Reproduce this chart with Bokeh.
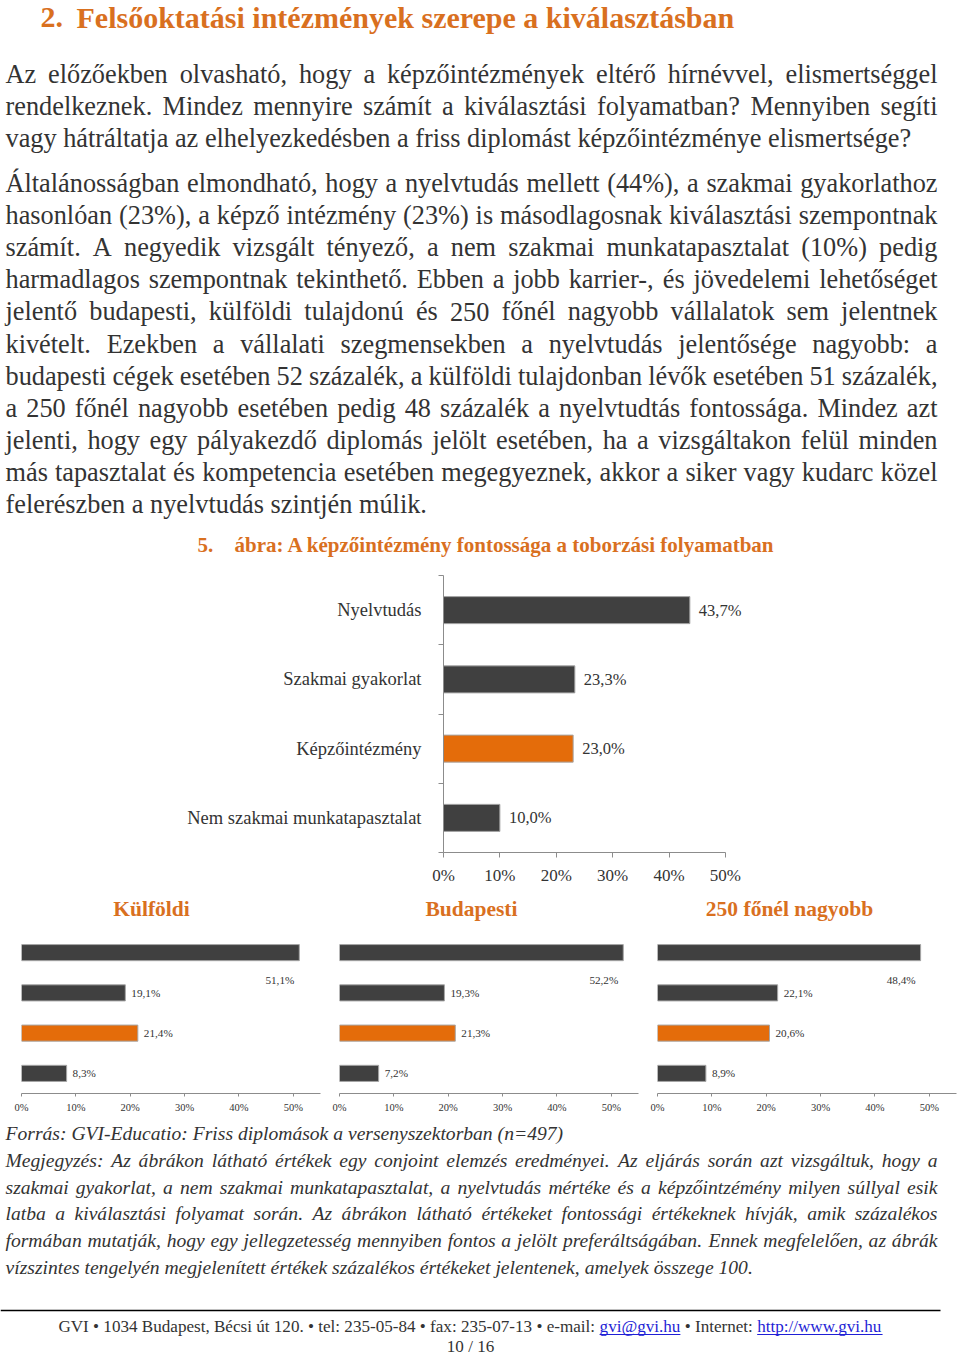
import unicodedata
from bokeh.plotting import figure
from bokeh.layouts import column, row
from bokeh.models import Range1d, FixedTicker, ColumnDataSource, LabelSet, PrintfTickFormatter, CustomJSTickFormatter
from bokeh.core.properties import value
from bokeh.embed import file_html
from bokeh.resources import INLINE

# ---------------- data ----------------
main_categories = ["Nyelvtudás", "Szakmai gyakorlat", "Képzőintézmény", "Nem szakmai munkatapasztalat"]
main_values = [43.7, 23.3, 23.0, 10.0]
main_labels = ["43,7%", "23,3%", "23,0%", "10,0%"]
highlight_category = "Képzőintézmény"

segment_titles = ["Külföldi", "Budapesti", "250 főnél nagyobb"]
kulfoldi_values = [51.1, 19.1, 21.4, 8.3]
kulfoldi_labels = ["51,1%", "19,1%", "21,4%", "8,3%"]
budapesti_values = [52.2, 19.3, 21.3, 7.2]
budapesti_labels = ["52,2%", "19,3%", "21,3%", "7,2%"]
nagyobb_values = [48.4, 22.1, 20.6, 8.9]
nagyobb_labels = ["48,4%", "22,1%", "20,6%", "8,9%"]

main_ticks = [0, 10, 20, 30, 40, 50]
small_ticks = [0, 10, 20, 30, 40, 50]

heading_number = "2."
heading_text = "Felsőoktatási intézmények szerepe a kiválasztásban"
paragraph1 = [
    "Az előzőekben olvasható, hogy a képzőintézmények eltérő hírnévvel, elismertséggel",
    "rendelkeznek. Mindez mennyire számít a kiválasztási folyamatban? Mennyiben segíti",
    "vagy hátráltatja az elhelyezkedésben a friss diplomást képzőintézménye elismertsége?",
]
paragraph2 = [
    "Általánosságban elmondható, hogy a nyelvtudás mellett (44%), a szakmai gyakorlathoz",
    "hasonlóan (23%), a képző intézmény (23%) is másodlagosnak kiválasztási szempontnak",
    "számít. A negyedik vizsgált tényező, a nem szakmai munkatapasztalat (10%) pedig",
    "harmadlagos szempontnak tekinthető. Ebben a jobb karrier-, és jövedelemi lehetőséget",
    "jelentő budapesti, külföldi tulajdonú és 250 főnél nagyobb vállalatok sem jelentnek",
    "kivételt. Ezekben a vállalati szegmensekben a nyelvtudás jelentősége nagyobb: a",
    "budapesti cégek esetében 52 százalék, a külföldi tulajdonban lévők esetében 51 százalék,",
    "a 250 főnél nagyobb esetében pedig 48 százalék a nyelvtudtás fontossága. Mindez azt",
    "jelenti, hogy egy pályakezdő diplomás jelölt esetében, ha a vizsgáltakon felül minden",
    "más tapasztalat és kompetencia esetében megegyeznek, akkor a siker vagy kudarc közel",
    "felerészben a nyelvtudás szintjén múlik.",
]
figure_number = "5."
figure_title = "ábra: A képzőintézmény fontossága a toborzási folyamatban"
source_note = ["Forrás: GVI-Educatio: Friss diplomások a versenyszektorban (n=497)"]
notes = [
    "Megjegyzés: Az ábrákon látható értékek egy conjoint elemzés eredményei. Az eljárás során azt vizsgáltuk, hogy a",
    "szakmai gyakorlat, a nem szakmai munkatapasztalat, a nyelvtudás mértéke és a képzőintzémény milyen súllyal esik",
    "latba a kiválasztási folyamat során. Az ábrákon látható értékeket fontossági értékeknek hívják, amik százalékos",
    "formában mutatják, hogy egy jellegzetesség mennyiben fontos a jelölt preferáltságában. Ennek megfelelően, az ábrák",
    "vízszintes tengelyén megjelenített értékek százalékos értékeket jelentenek, amelyek összege 100.",
]
footer_parts = ["GVI • 1034 Budapest, Bécsi út 120. • tel: 235-05-84 • fax: 235-07-13 • e-mail:",
                "gvi@gvi.hu", "• Internet:", "http://www.gvi.hu"]
footer_links = [False, True, False, True]
page_number = "10 / 16"

# ---------------- styles ----------------
SERIF = "Liberation Serif"
TEXT = "#333333"
ORANGE_TXT = "#D9701F"
ORANGE = "#E46C0A"
DARK = "#404040"
AXIS = "#8c8c8c"
LINK = "#1f1fd6"
W = 960

# Times-compatible advance widths (Liberation Serif), per 1000 em
_common = {' ': 250, '%': 833, '(': 333, ')': 333, ',': 250, '-': 333, '.': 250, '/': 278,
           '@': 921, '•': 350, '=': 564, '?': 444, ':': 278, '!': 333}
for d in "0123456789":
    _common[d] = 500
REG = dict(_common)
REG.update(dict(zip("ABCDEFGHIJKLMNOPQRSTUVWXYZ",
                    [722, 667, 667, 722, 611, 556, 722, 722, 333, 389, 722, 611, 889, 722, 722, 556, 722, 667,
                     556, 611, 722, 722, 944, 722, 722, 611])))
REG.update(dict(zip("abcdefghijklmnopqrstuvwxyz",
                    [444, 500, 444, 500, 444, 333, 500, 500, 278, 278, 500, 278, 778, 500, 500, 500, 500, 333,
                     389, 278, 500, 500, 722, 500, 500, 444])))
ITA = dict(_common)
ITA.update({':': 333, '?': 500, '=': 675})
ITA.update(dict(zip("ABCDEFGHIJKLMNOPQRSTUVWXYZ",
                    [611, 611, 667, 722, 611, 611, 722, 722, 333, 444, 667, 556, 833, 667, 722, 611, 722, 611,
                     500, 556, 722, 611, 833, 611, 556, 556])))
ITA.update(dict(zip("abcdefghijklmnopqrstuvwxyz",
                    [500, 500, 444, 500, 444, 278, 500, 500, 278, 278, 444, 278, 722, 500, 500, 500, 500, 389,
                     389, 278, 500, 444, 667, 444, 444, 389])))


def text_width(s, size, table):
    tot = 0
    for ch in s:
        base = unicodedata.normalize("NFD", ch)[0]
        tot += table.get(ch, table.get(base, 500))
    return tot * size / 1000.0


def justify(lines, x0, x1, y0, dy, size, table, justify_last=False):
    xs, ys, words = [], [], []
    for i, line in enumerate(lines):
        ws = line.split(" ")
        wid = [text_width(w, size, table) for w in ws]
        if (i < len(lines) - 1 or justify_last) and len(ws) > 1:
            gap = (x1 - x0 - sum(wid)) / (len(ws) - 1)
        else:
            gap = table[' '] * size / 1000.0
        x = x0
        for w, wd in zip(ws, wid):
            xs.append(x)
            ys.append(y0 + dy * i)
            words.append(w)
            x += wd + gap
    return xs, ys, words


def text_fig(height):
    p = figure(width=W, height=height, x_range=Range1d(0, W), y_range=Range1d(height, 0),
               x_axis_type=None, y_axis_type=None, output_backend="svg", toolbar_location=None,
               min_border=0)
    p.grid.visible = False
    p.outline_line_color = None
    return p


BODY = 26.3
# ---------------- A: top text ----------------
HA = 560
pa = text_fig(HA)
pa.text(x=[40], y=[17], text=[heading_number], text_font=value(SERIF), text_font_style="bold",
        text_font_size="30px", text_color=ORANGE_TXT, text_baseline="middle")
pa.text(x=[76], y=[17], text=[heading_text], text_font=value(SERIF), text_font_style="bold",
        text_font_size="30px", text_color=ORANGE_TXT, text_baseline="middle")
for lines, y0 in ((paragraph1, 74), (paragraph2, 183)):
    xs, ys, ws = justify(lines, 5, 937, y0, 32.1, BODY, REG)
    pa.text(x=xs, y=ys, text=ws, text_font=value(SERIF), text_font_size=f"{BODY}px",
            text_color=TEXT, text_baseline="middle")
pa.text(x=[197], y=[544], text=[figure_number], text_font=value(SERIF), text_font_style="bold",
        text_font_size="21px", text_color=ORANGE_TXT, text_baseline="middle")
pa.text(x=[234], y=[544], text=[figure_title], text_font=value(SERIF), text_font_style="bold",
        text_font_size="21px", text_color=ORANGE_TXT, text_baseline="middle")

# ---------------- B: main chart ----------------
n = len(main_categories)
ypos = [n - i for i in range(n)]
colors = [ORANGE if c == highlight_category else DARK for c in main_categories]
src = ColumnDataSource(dict(y=ypos, v=main_values, lbl=main_labels, color=colors))
pb = figure(width=W, height=330, x_range=Range1d(0, 80), y_range=Range1d(0.5, n + 0.5),
            output_backend="svg", toolbar_location=None,
            min_border_left=443, min_border_right=66, min_border_top=15, min_border_bottom=38)
pb.hbar(y="y", left=0, right="v", height=0.39, fill_color="color", line_color="#a6a6a6",
        line_width=1, source=src)
pb.add_layout(LabelSet(x="v", y="y", text="lbl", x_offset=9, text_baseline="middle",
                       text_font=value(SERIF), text_font_size="16.5px", text_color=TEXT, source=src))
pb.grid.visible = False
pb.outline_line_color = None
xa = pb.xaxis[0]
xa.bounds = (0, 50)
xa.ticker = FixedTicker(ticks=main_ticks, minor_ticks=[])
xa.formatter = PrintfTickFormatter(format="%d%%")
xa.axis_line_color = AXIS
xa.major_tick_line_color = AXIS
xa.major_tick_out = 5
xa.major_tick_in = 0
xa.minor_tick_line_color = None
xa.major_label_standoff = 8
xa.major_label_text_font = SERIF
xa.major_label_text_font_size = "17px"
xa.major_label_text_color = TEXT
ya = pb.yaxis[0]
ya.ticker = FixedTicker(ticks=ypos, minor_ticks=[k + 0.5 for k in range(n + 1)])
ya.formatter = CustomJSTickFormatter(args=dict(names=main_categories, n=n),
                                     code="const i = n - Math.round(tick); return (i >= 0 && i < names.length) ? names[i] : '';")
ya.axis_line_color = AXIS
ya.major_tick_line_color = None
ya.minor_tick_line_color = AXIS
ya.minor_tick_out = 5
ya.minor_tick_in = 0
ya.major_label_standoff = 16
ya.major_label_text_font = SERIF
ya.major_label_text_font_size = "18.5px"
ya.major_label_text_color = TEXT

# ---------------- D: segment titles ----------------
pd_ = text_fig(35)
pd_.text(x=[151, 471, 789], y=[18, 18, 18], text=segment_titles, text_font=value(SERIF),
         text_font_style="bold", text_font_size="21.5px", text_color=ORANGE_TXT,
         text_baseline="middle", text_align="center")


# ---------------- E: small charts ----------------
def small_chart(values, labels, width, left, right):
    m = len(values)
    ys = [m - i for i in range(m)]
    cols = [ORANGE if c == highlight_category else DARK for c in main_categories]
    s_main = ColumnDataSource(dict(y=ys[1:], v=values[1:], lbl=labels[1:]))
    s_top = ColumnDataSource(dict(y=[ys[0] - 0.67], v=values[:1], lbl=labels[:1]))
    s_bar = ColumnDataSource(dict(y=ys, v=values, color=cols))
    p = figure(width=width, height=190, x_range=Range1d(0, 55), y_range=Range1d(0.5, m + 0.5),
               y_axis_location=None, output_backend="svg", toolbar_location=None,
               min_border_left=left, min_border_right=right, min_border_top=7, min_border_bottom=22)
    p.hbar(y="y", left=0, right="v", height=0.4, fill_color="color", line_color="#a6a6a6",
           line_width=1, source=s_bar)
    p.add_layout(LabelSet(x="v", y="y", text="lbl", x_offset=6, text_baseline="middle",
                          text_font=value(SERIF), text_font_size="11.2px", text_color=TEXT, source=s_main))
    p.add_layout(LabelSet(x="v", y="y", text="lbl", x_offset=-5, text_baseline="middle", text_align="right",
                          text_font=value(SERIF), text_font_size="11.2px", text_color=TEXT, source=s_top))
    p.grid.visible = False
    p.outline_line_color = None
    ax = p.xaxis[0]
    ax.ticker = FixedTicker(ticks=small_ticks, minor_ticks=[])
    ax.formatter = PrintfTickFormatter(format="%d%%")
    ax.axis_line_color = AXIS
    ax.major_tick_line_color = AXIS
    ax.major_tick_out = 3
    ax.major_tick_in = 0
    ax.minor_tick_line_color = None
    ax.major_label_standoff = 5
    ax.major_label_text_font = SERIF
    ax.major_label_text_font_size = "10.5px"
    ax.major_label_text_color = TEXT
    return p


e1 = small_chart(kulfoldi_values, kulfoldi_labels, 330, 21, 10)
e2 = small_chart(budapesti_values, budapesti_labels, 318, 9, 10)
e3 = small_chart(nagyobb_values, nagyobb_labels, 312, 9, 4)

# ---------------- F: notes & footer ----------------
HF = 241
NOTE = 19.6
pf = text_fig(HF)
xs, ys, ws = justify(source_note, 5, 937, 18, 26.8, NOTE, ITA)
pf.text(x=xs, y=ys, text=ws, text_font=value(SERIF), text_font_style="italic",
        text_font_size=f"{NOTE}px", text_color=TEXT, text_baseline="middle")
xs, ys, ws = justify(notes, 5, 937, 18 + 26.8, 26.8, NOTE, ITA)
pf.text(x=xs, y=ys, text=ws, text_font=value(SERIF), text_font_style="italic",
        text_font_size=f"{NOTE}px", text_color=TEXT, text_baseline="middle")
pf.segment(x0=[0], y0=[195], x1=[940], y1=[195], line_color="#000000", line_width=1.5)

FOOT = 17.1
space = REG[' '] * FOOT / 1000.0
widths = [text_width(s, FOOT, REG) for s in footer_parts]
total = sum(widths) + space * (len(footer_parts) - 1)
x = 470 - total / 2
fx, fcol, ux0, ux1 = [], [], [], []
for s, wd, is_link in zip(footer_parts, widths, footer_links):
    fx.append(x)
    fcol.append(LINK if is_link else TEXT)
    if is_link:
        ux0.append(x)
        ux1.append(x + wd)
    x += wd + space
pf.text(x=fx, y=[211] * len(fx), text=footer_parts, text_font=value(SERIF), text_font_size=f"{FOOT}px",
        text_color=fcol, text_baseline="middle")
pf.segment(x0=ux0, y0=[219] * len(ux0), x1=ux1, y1=[219] * len(ux0), line_color=LINK, line_width=1)
pf.text(x=[470], y=[231], text=[page_number], text_font=value(SERIF), text_font_size=f"{FOOT}px",
        text_color=TEXT, text_baseline="middle", text_align="center")

layout = column(row(pa), row(pb), row(pd_), row(e1, e2, e3, spacing=0), row(pf), spacing=0)

open("out.html", "w").write(file_html(layout, INLINE))
